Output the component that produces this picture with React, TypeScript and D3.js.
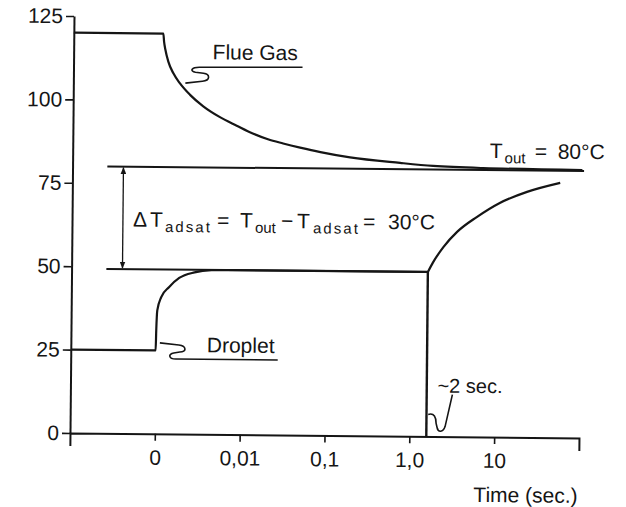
import React, { useEffect, useRef } from 'react';
import * as d3 from 'd3';

// Time axis is drawn in decade steps: -1 = left edge, 0 = "0", 1 = "0,01", 2 = "0,1", 3 = "1,0", 4 = "10"
const timeTicks = [0, 1, 2, 3, 4];
const timeTickLabels = ['0', '0,01', '0,1', '1,0', '10'];
const tempTicks = [0, 25, 50, 75, 100, 125];

// [time step, temperature °C]
const flueGas: [number, number][] = [
  [-1, 120], [0.055, 120], [0.065, 117.5], [0.08, 115.3], [0.117, 111.6], [0.178, 108.1],
  [0.257, 105.1], [0.377, 101.7], [0.534, 98.3], [0.732, 95.1], [0.93, 92.6], [1.12, 90.3],
  [1.3, 88.6], [1.48, 87.4], [1.68, 86.2], [1.92, 84.9], [2.27, 83.4], [2.86, 81.9],
  [3.25, 81.1], [3.84, 80.6], [5.01, 80.3],
];

const droplet: [number, number][] = [
  [-1, 25], [0, 25], [0.005, 31], [0.015, 37], [0.06, 41], [0.15, 44], [0.27, 46.8],
  [0.45, 48.5], [0.65, 49.2], [0.85, 49.3], [3.2, 49.3],
];

const evaporation: [number, number][] = [[3.2, 49.3], [3.2, 0]];

const dryParticle: [number, number][] = [
  [3.2, 49.3], [3.26, 52.2], [3.38, 56.8], [3.54, 61.4], [3.77, 65.9], [4.04, 70.2],
  [4.36, 73.6], [4.75, 76.4],
];

const tOut = 80;
const tAdsat = 49.3;
const refLineStart = -0.59;
const tOutLineEnd = 5.03;
const arrowAt = -0.4;

const FONT = "'Liberation Sans', Arial, sans-serif";
const INK = '#151515';

const App: React.FC = () => {
  const svgRef = useRef<SVGSVGElement>(null);

  useEffect(() => {
    if (!svgRef.current) return;
    const svg = d3.select(svgRef.current);
    svg.selectAll('*').remove();

    const x = d3.scaleLinear().domain([-1, 5]).range([70, 579]);
    const y = d3.scaleLinear().domain([0, 125]).range([433, 16]);

    // the scanned figure sits slightly rotated
    const g = svg.append('g').attr('transform', `rotate(0.55, ${x(-1)}, ${y(0)})`);

    const defs = svg.append('defs');
    defs.append('marker')
      .attr('id', 'arrow')
      .attr('viewBox', '0 0 10 8')
      .attr('refX', 9)
      .attr('refY', 4)
      .attr('markerWidth', 7)
      .attr('markerHeight', 6)
      .attr('markerUnits', 'userSpaceOnUse')
      .attr('orient', 'auto-start-reverse')
      .append('path')
      .attr('d', 'M0,0 L10,4 L0,8 z')
      .attr('fill', INK);

    // axes
    const yAxis = d3.axisLeft(y).tickValues(tempTicks).tickSize(8).tickPadding(3).tickSizeOuter(0);
    const yg = g.append('g').attr('transform', `translate(${x(-1)},0)`).call(yAxis as any);
    yg.select('.domain').attr('stroke', INK).attr('stroke-width', 2);
    yg.selectAll('.tick line').attr('stroke', INK).attr('stroke-width', 1.6);
    yg.selectAll('.tick text')
      .attr('fill', INK)
      .style('font-family', FONT)
      .style('font-size', '21px');

    const xAxis = d3.axisBottom(x)
      .tickValues(timeTicks)
      .tickFormat((_d, i) => timeTickLabels[i])
      .tickSize(7)
      .tickPadding(9)
      .tickSizeOuter(13);
    const xg = g.append('g').attr('transform', `translate(0,${y(0)})`).call(xAxis as any);
    xg.select('.domain').attr('stroke', INK).attr('stroke-width', 2);
    xg.selectAll('.tick line').attr('stroke', INK).attr('stroke-width', 1.6);
    xg.selectAll('.tick text')
      .attr('fill', INK)
      .style('font-family', FONT)
      .style('font-size', '21px');

    g.append('text')
      .attr('x', 474)
      .attr('y', 498)
      .attr('fill', INK)
      .style('font-family', FONT)
      .style('font-size', '21px')
      .text('Time (sec.)');

    // reference lines
    g.append('line')
      .attr('x1', x(refLineStart)).attr('x2', x(tOutLineEnd))
      .attr('y1', y(tOut)).attr('y2', y(tOut))
      .attr('stroke', INK).attr('stroke-width', 2);
    g.append('line')
      .attr('x1', x(refLineStart)).attr('x2', x(evaporation[0][0]))
      .attr('y1', y(tAdsat)).attr('y2', y(tAdsat))
      .attr('stroke', INK).attr('stroke-width', 2);
    g.append('line')
      .attr('x1', x(arrowAt)).attr('x2', x(arrowAt))
      .attr('y1', y(tOut) + 1).attr('y2', y(tAdsat) - 1)
      .attr('stroke', INK).attr('stroke-width', 1.3)
      .attr('marker-start', 'url(#arrow)')
      .attr('marker-end', 'url(#arrow)');

    // curves
    const smooth = d3.line<[number, number]>()
      .x(d => x(d[0]))
      .y(d => y(d[1]))
      .curve(d3.curveMonotoneX);
    const straight = d3.line<[number, number]>()
      .x(d => x(d[0]))
      .y(d => y(d[1]));

    [flueGas, droplet, dryParticle].forEach(series => {
      g.append('path')
        .datum(series)
        .attr('d', smooth)
        .attr('fill', 'none')
        .attr('stroke', INK)
        .attr('stroke-width', 2.2);
    });
    g.append('path')
      .datum(evaporation)
      .attr('d', straight)
      .attr('fill', 'none')
      .attr('stroke', INK)
      .attr('stroke-width', 2.4);

    // annotations
    const txt = (px: number, py: number, s: string, size = 21) =>
      g.append('text')
        .attr('x', px)
        .attr('y', py)
        .attr('fill', INK)
        .style('font-family', FONT)
        .style('font-size', `${size}px`)
        .text(s);

    const leader = (d: string) =>
      g.append('path')
        .attr('d', d)
        .attr('fill', 'none')
        .attr('stroke', INK)
        .attr('stroke-width', 1.6);

    txt(209, 58, 'Flue Gas');
    leader('M182,82 L199,80 C207,79 207,73 200,72 L192,71 C186,70 188,66 196,66 L299,65');

    txt(206, 351, 'Droplet');
    leader('M159,342 L178,344 C186,345 186,351 179,351 L173,352 C167,353 168,358 175,358 L277,358');

    txt(437, 389, '~2 sec.', 20);
    leader('M428,411 C434,409 436,414 436,420 L437,424 C438,429 443,429 445,423 L452,391');

    // T_out = 80°C
    txt(487, 154, 'T');
    txt(502, 159, 'out', 15);
    txt(532, 154, '=');
    txt(555, 154, '80°C');

    // ΔT_adsat = T_out − T_adsat = 30°C
    const base = 226;
    txt(131, base, 'Δ');
    txt(148, base, 'T');
    txt(163, base + 5, 'adsat', 15).attr('textLength', 45);
    txt(215, base, '=');
    txt(238, base, 'T');
    txt(253, base + 5, 'out', 15);
    txt(279, base, '−');
    txt(295, base, 'T');
    txt(311, base + 5, 'adsat', 15).attr('textLength', 45);
    txt(361, base, '=');
    txt(386, base, '30°C');
  }, []);

  return (
    <svg
      ref={svgRef}
      width={626}
      height={507}
      style={{ position: 'absolute', left: 0, top: 0, background: '#fff' }}
    />
  );
};

export default App;
